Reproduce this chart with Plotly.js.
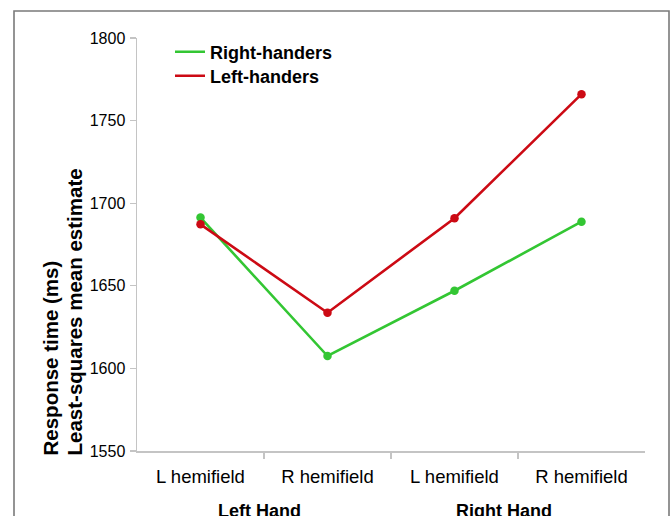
<!DOCTYPE html>
<html>
<head>
<meta charset="utf-8">
<script src="https://cdn.plot.ly/plotly-3.0.1.min.js"></script>
<style>html,body{margin:0;padding:0;background:#fff;}#chart{width:671px;height:516px;}</style>
</head>
<body>
<div id="chart"></div>
<script>
// Data
const hemifields = ['L hemifield', 'R hemifield', 'L hemifield', 'R hemifield'];
const hands = ['Left Hand', 'Right Hand'];
const seriesNames = ['Right-handers', 'Left-handers'];
const rightHanders = [1691.3, 1607.5, 1647, 1688.8];
const leftHanders = [1687.2, 1633.7, 1690.9, 1766];
const yTicks = [1550, 1600, 1650, 1700, 1750, 1800];
const yTitleLines = ['Response time (ms)', 'Least-squares mean estimate'];

const xIdx = hemifields.map((_, i) => i);
const colors = ['#33c633', '#cc0a14'];
const values = [rightHanders, leftHanders];
const legendIds = ['legend', 'legend2'];

const traces = [];
values.forEach((v, k) => {
  traces.push({
    x: xIdx, y: v, type: 'scatter', mode: 'lines', name: seriesNames[k],
    line: {color: colors[k], width: 2.6}, showlegend: true, legend: legendIds[k], hoverinfo: 'skip'
  });
});
values.forEach((v, k) => {
  traces.push({
    x: xIdx, y: v, type: 'scatter', mode: 'markers', name: seriesNames[k],
    marker: {color: colors[k], size: 8.5}, showlegend: false
  });
});

const L = 137, R = 645, T = 38, B = 451, W = 671, H = 516;
const pw = R - L, ph = B - T;
const px = v => (v - L) / pw;
const py = v => (B - v) / ph;

const FF = 'Liberation Sans, Arial, sans-serif';
const boldFont = s => ({family: FF, size: s, color: '#000', weight: 'bold'});

const annotations = [
  {
    text: yTitleLines[0], xref: 'paper', yref: 'paper', x: px(50), y: py(458),
    xanchor: 'center', yanchor: 'bottom', textangle: -90,
    showarrow: false, font: boldFont(20.5)
  },
  {
    text: yTitleLines[1], xref: 'paper', yref: 'paper', x: px(74), y: py(458),
    xanchor: 'center', yanchor: 'bottom', textangle: -90,
    showarrow: false, font: boldFont(20.5)
  },
  {
    text: hands[0], xref: 'paper', yref: 'paper', x: px(259), y: py(511),
    xanchor: 'center', yanchor: 'middle', showarrow: false, font: boldFont(18)
  },
  {
    text: hands[1], xref: 'paper', yref: 'paper', x: px(504), y: py(511),
    xanchor: 'center', yanchor: 'middle', showarrow: false, font: boldFont(18)
  }
];

const legendBase = {
  xanchor: 'left', yanchor: 'middle',
  bgcolor: 'rgba(0,0,0,0)', borderwidth: 0,
  font: boldFont(18)
};

const layout = {
  width: W, height: H,
  margin: {l: L, r: W - R, t: T, b: H - B, pad: 0},
  paper_bgcolor: '#fff', plot_bgcolor: '#fff',
  font: {family: FF, color: '#000'},
  showlegend: true,
  legend: Object.assign({}, legendBase, {x: px(170), y: py(52)}),
  legend2: Object.assign({}, legendBase, {x: px(170), y: py(76)}),
  xaxis: {
    range: [-0.5, 3.5], tickmode: 'array', tickvals: xIdx, ticktext: hemifields,
    ticks: '', showgrid: false, zeroline: false,
    showline: true, linecolor: '#c4c4c4', linewidth: 1.5,
    tickfont: {size: 18.5, color: '#000'}, ticklabelstandoff: 8,
    minor: {tickmode: 'array', tickvals: [0.5, 1.5, 2.5], ticks: 'outside', ticklen: 6, tickcolor: '#c4c4c4', tickwidth: 1.2, showgrid: false},
    fixedrange: true
  },
  yaxis: {
    range: [1550, 1800], tickmode: 'array', tickvals: yTicks,
    ticks: 'outside', ticklen: 6, tickcolor: '#c4c4c4', tickwidth: 1.2,
    showgrid: false, zeroline: false,
    showline: true, linecolor: '#c4c4c4', linewidth: 1.5,
    tickfont: {size: 16, color: '#000'}, ticklabelstandoff: 1,
    fixedrange: true
  },
  shapes: [
    {type: 'rect', xref: 'paper', yref: 'paper', x0: px(14), x1: px(669), y0: py(530), y1: py(11),
     line: {color: '#7a7a7a', width: 1.6}, fillcolor: 'rgba(0,0,0,0)', layer: 'below'}
  ],
  annotations: annotations
};

Plotly.newPlot('chart', traces, layout, {displayModeBar: false, staticPlot: true});
</script>
</body>
</html>
